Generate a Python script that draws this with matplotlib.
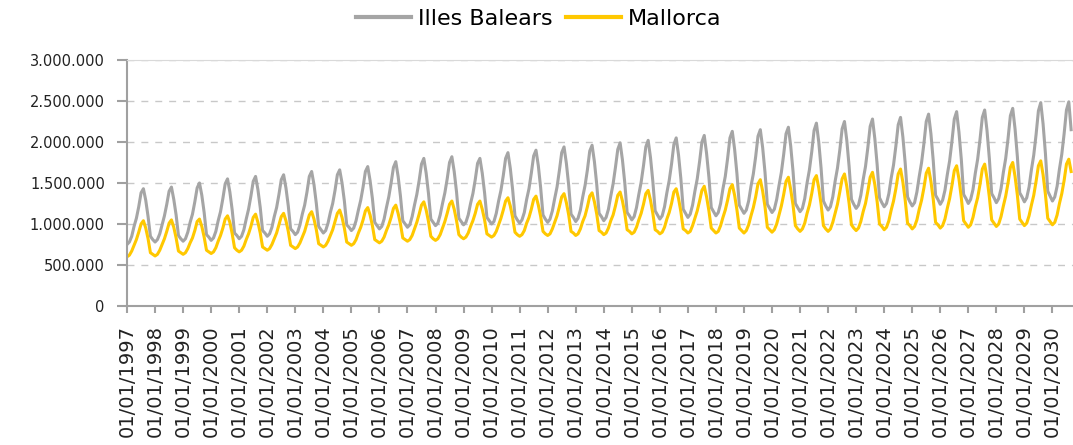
import matplotlib.pyplot as plt
from matplotlib.ticker import FuncFormatter

# monthly values (thousands), Jan 1997 .. Sep 2030, one row per year
illes_balears = [
    750, 780, 850, 970, 1070, 1210, 1380, 1430, 1290, 1090, 850, 810,      # 1997
    780, 810, 880, 990, 1100, 1240, 1400, 1450, 1300, 1110, 860, 820,      # 1998
    790, 820, 900, 1020, 1120, 1270, 1440, 1500, 1350, 1140, 870, 840,     # 1999
    800, 830, 910, 1040, 1150, 1310, 1490, 1550, 1390, 1170, 890, 860,     # 2000
    820, 850, 930, 1060, 1180, 1340, 1520, 1580, 1420, 1200, 920, 890,     # 2001
    850, 880, 960, 1090, 1200, 1360, 1540, 1600, 1440, 1220, 940, 910,     # 2002
    870, 900, 990, 1120, 1230, 1390, 1580, 1640, 1480, 1250, 970, 930,     # 2003
    890, 920, 1010, 1140, 1250, 1410, 1600, 1660, 1500, 1280, 990, 960,    # 2004
    920, 950, 1040, 1170, 1290, 1450, 1640, 1700, 1530, 1310, 1020, 980,   # 2005
    940, 970, 1060, 1200, 1330, 1500, 1690, 1760, 1580, 1340, 1040, 1000,  # 2006
    960, 990, 1090, 1230, 1360, 1530, 1730, 1800, 1620, 1370, 1060, 1020,  # 2007
    980, 1010, 1110, 1250, 1380, 1550, 1750, 1820, 1640, 1390, 1070, 1030, # 2008
    990, 1020, 1110, 1250, 1370, 1540, 1740, 1800, 1620, 1380, 1080, 1040, # 2009
    1000, 1030, 1130, 1280, 1410, 1590, 1800, 1870, 1680, 1420, 1100, 1050,  # 2010
    1010, 1050, 1140, 1300, 1430, 1620, 1830, 1900, 1710, 1440, 1110, 1060,  # 2011
    1020, 1060, 1160, 1310, 1450, 1650, 1870, 1940, 1740, 1470, 1120, 1080,  # 2012
    1030, 1070, 1170, 1330, 1470, 1660, 1890, 1960, 1760, 1480, 1130, 1090,  # 2013
    1040, 1080, 1180, 1340, 1490, 1690, 1910, 1990, 1780, 1500, 1140, 1100,  # 2014
    1050, 1090, 1200, 1360, 1510, 1710, 1940, 2020, 1810, 1520, 1160, 1110,  # 2015
    1060, 1100, 1210, 1380, 1530, 1730, 1970, 2050, 1840, 1550, 1180, 1130,  # 2016
    1080, 1120, 1230, 1400, 1550, 1760, 2000, 2080, 1860, 1570, 1200, 1150,  # 2017
    1100, 1140, 1250, 1430, 1580, 1800, 2050, 2130, 1910, 1610, 1230, 1180,  # 2018
    1130, 1170, 1280, 1460, 1610, 1820, 2070, 2150, 1930, 1630, 1240, 1190,  # 2019
    1140, 1180, 1300, 1470, 1630, 1850, 2100, 2180, 1950, 1640, 1250, 1200,  # 2020
    1150, 1190, 1310, 1500, 1660, 1880, 2140, 2230, 2000, 1680, 1280, 1220,  # 2021
    1170, 1210, 1330, 1520, 1680, 1900, 2160, 2250, 2020, 1700, 1300, 1240,  # 2022
    1190, 1230, 1350, 1540, 1700, 1930, 2190, 2280, 2040, 1720, 1320, 1260,  # 2023
    1210, 1250, 1370, 1560, 1720, 1950, 2210, 2300, 2060, 1740, 1330, 1270,  # 2024
    1220, 1260, 1390, 1580, 1750, 1980, 2250, 2340, 2100, 1770, 1350, 1300,  # 2025
    1240, 1290, 1410, 1600, 1770, 2010, 2280, 2370, 2120, 1790, 1360, 1310,  # 2026
    1250, 1300, 1420, 1620, 1790, 2030, 2300, 2390, 2140, 1800, 1370, 1320,  # 2027
    1260, 1310, 1430, 1630, 1800, 2040, 2320, 2410, 2160, 1820, 1380, 1330,  # 2028
    1270, 1320, 1450, 1660, 1840, 2090, 2380, 2480, 2220, 1860, 1400, 1340,  # 2029
    1280, 1330, 1460, 1670, 1850, 2100, 2390, 2490, 2150,                    # 2030
]

mallorca = [
    600, 620, 670, 740, 810, 900, 1000, 1040, 950, 820, 650, 630,     # 1997
    610, 630, 680, 750, 820, 910, 1010, 1050, 960, 830, 670, 650,     # 1998
    630, 650, 700, 770, 830, 920, 1030, 1060, 970, 840, 680, 660,     # 1999
    640, 660, 710, 790, 860, 950, 1060, 1100, 1020, 880, 710, 680,    # 2000
    660, 680, 730, 810, 880, 970, 1080, 1120, 1020, 890, 720, 700,    # 2001
    680, 700, 750, 820, 890, 990, 1090, 1130, 1040, 910, 740, 720,    # 2002
    700, 720, 770, 840, 910, 1010, 1110, 1150, 1060, 930, 760, 740,   # 2003
    720, 740, 790, 860, 930, 1030, 1130, 1170, 1080, 950, 780, 760,   # 2004
    740, 760, 810, 890, 960, 1050, 1160, 1200, 1110, 980, 810, 790,   # 2005
    770, 790, 840, 920, 990, 1080, 1190, 1230, 1130, 1000, 830, 810,  # 2006
    790, 810, 860, 940, 1020, 1120, 1230, 1270, 1170, 1030, 850, 820, # 2007
    800, 820, 870, 950, 1030, 1130, 1240, 1280, 1180, 1040, 870, 840, # 2008
    820, 840, 890, 970, 1040, 1130, 1240, 1280, 1180, 1050, 880, 860, # 2009
    840, 860, 910, 990, 1070, 1170, 1280, 1320, 1220, 1080, 900, 870, # 2010
    850, 870, 920, 1010, 1080, 1180, 1300, 1340, 1230, 1090, 910, 880,  # 2011
    860, 880, 940, 1020, 1100, 1210, 1330, 1370, 1260, 1110, 910, 890,  # 2012
    860, 880, 940, 1030, 1100, 1210, 1340, 1380, 1270, 1120, 920, 900,  # 2013
    870, 890, 950, 1040, 1110, 1220, 1350, 1390, 1280, 1130, 930, 910,  # 2014
    880, 900, 960, 1050, 1130, 1240, 1370, 1410, 1290, 1130, 930, 910,  # 2015
    880, 900, 960, 1060, 1140, 1250, 1390, 1430, 1310, 1150, 940, 920,  # 2016
    890, 910, 980, 1070, 1160, 1280, 1410, 1460, 1330, 1160, 950, 920,  # 2017
    890, 910, 980, 1080, 1170, 1290, 1430, 1480, 1350, 1170, 950, 920,  # 2018
    890, 920, 990, 1100, 1200, 1330, 1490, 1540, 1400, 1210, 960, 930,  # 2019
    900, 930, 1000, 1110, 1220, 1360, 1520, 1570, 1420, 1230, 980, 940,   # 2020
    910, 940, 1010, 1130, 1230, 1370, 1540, 1590, 1440, 1240, 980, 940,   # 2021
    910, 940, 1020, 1130, 1240, 1390, 1550, 1610, 1460, 1250, 990, 950,   # 2022
    920, 950, 1030, 1150, 1250, 1400, 1570, 1630, 1480, 1270, 1000, 970,  # 2023
    930, 960, 1040, 1170, 1280, 1430, 1610, 1670, 1510, 1290, 1010, 980,  # 2024
    940, 970, 1050, 1180, 1290, 1440, 1620, 1680, 1520, 1300, 1020, 990,  # 2025
    950, 980, 1060, 1190, 1310, 1470, 1650, 1710, 1550, 1320, 1040, 1000,  # 2026
    960, 990, 1080, 1210, 1320, 1480, 1670, 1730, 1560, 1330, 1050, 1010,  # 2027
    970, 1000, 1090, 1220, 1340, 1500, 1690, 1750, 1580, 1350, 1060, 1020, # 2028
    980, 1010, 1100, 1230, 1350, 1520, 1710, 1770, 1600, 1360, 1070, 1030, # 2029
    990, 1020, 1110, 1250, 1370, 1530, 1730, 1790, 1640,                   # 2030
]

years = list(range(1997, 2031))
tick_labels = ['01/01/%d' % y for y in years]

gray = '#A5A5A5'
gold = '#FFC800'

fig = plt.figure(figsize=(10.73, 4.45), dpi=100)
ax = fig.add_axes([0.1184, 0.3124, 0.8816, 0.5528])

months = range(len(illes_balears))
ax.plot(months, [v * 1000 for v in illes_balears], color=gray, lw=2.2, label='Illes Balears')
ax.plot(months, [v * 1000 for v in mallorca], color=gold, lw=2.2, label='Mallorca')

ax.set_ylim(0, 3000000)
ax.set_yticks(range(0, 3000001, 500000))
ax.yaxis.set_major_formatter(FuncFormatter(lambda v, p: f'{int(v):,}'.replace(',', '.')))
ax.set_xlim(0, 404.8)
ax.set_xticks([12 * i for i in range(len(years))])
ax.set_xticklabels(tick_labels, rotation=90, fontsize=14, color='#222222')
for lab in ax.get_yticklabels():
    lab.set_fontsize(10.5)
    lab.set_color('#222222')

# dashed horizontal gridlines like excel
ax.grid(axis='y', linestyle=(0, (5, 5)), color='#C8C8C8', lw=1)
ax.set_axisbelow(True)

ax.spines['right'].set_visible(False)
ax.spines['top'].set_color('#D9D9D9')
ax.spines['left'].set_color('#A0A0A0')
ax.spines['bottom'].set_color('#A0A0A0')
ax.spines['left'].set_linewidth(1.5)
ax.spines['bottom'].set_linewidth(1.5)
ax.tick_params(axis='y', length=7, width=1.5, color='#A0A0A0', pad=9)
ax.tick_params(axis='x', length=5, width=1.5, color='#A0A0A0', pad=9)

fig.legend(loc='center', bbox_to_anchor=(0.502, 0.958), ncol=2, frameon=False,
           fontsize=16, handlelength=2.5, handletextpad=0.3, columnspacing=0.6)
for line in fig.legends[0].get_lines():
    line.set_linewidth(3)

fig.savefig('out.png', dpi=100)
